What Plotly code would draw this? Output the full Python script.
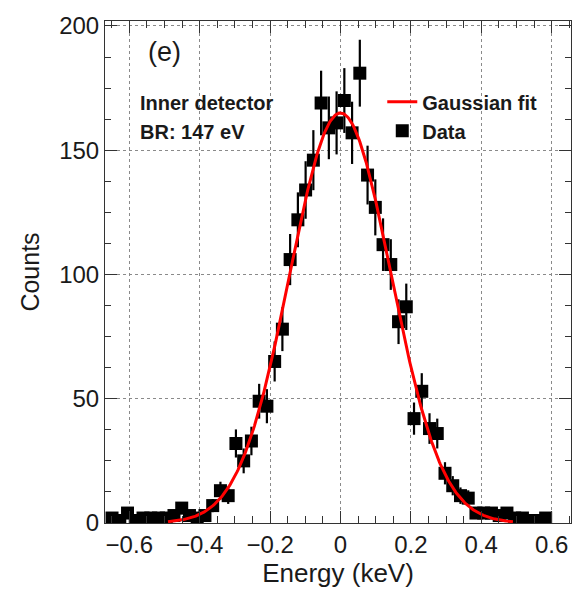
import numpy as np
import plotly.graph_objects as go

# Data (bin centres in keV, counts)
energy_keV = [-0.649, -0.627, -0.605, -0.583, -0.561, -0.539, -0.517, -0.495,
              -0.473, -0.451, -0.429, -0.407, -0.385, -0.363, -0.341, -0.319,
              -0.297, -0.275, -0.253, -0.231, -0.209, -0.187, -0.165, -0.143,
              -0.121, -0.099, -0.077, -0.055, -0.033, -0.011, 0.011, 0.033,
              0.055, 0.077, 0.099, 0.121, 0.143, 0.165, 0.187, 0.209,
              0.231, 0.253, 0.275, 0.297, 0.319, 0.341, 0.363, 0.385,
              0.407, 0.429, 0.451, 0.473, 0.495, 0.517, 0.539, 0.561, 0.583]
counts = [2, 1, 4, 1, 2, 2, 2, 2,
          3, 6, 3, 2, 3, 7, 13, 11,
          32, 25, 33, 49, 47, 65, 78, 106,
          122, 134, 146, 169, 159, 161, 170, 157,
          181, 140, 127, 112, 104, 81, 87, 42,
          53, 38, 36, 20, 15, 11, 10, 4,
          4, 4, 3, 4, 2, 2, 1, 1, 2]

# Gaussian fit parameters
fit_amplitude = 165.0
fit_mean = 0.0
fit_sigma = 0.144
fit_range = [-0.49, 0.49]

x_ticks = [-0.6, -0.4, -0.2, 0, 0.2, 0.4, 0.6]
y_ticks = [0, 50, 100, 150, 200]

errors = np.sqrt(np.array(counts, dtype=float))
xf = np.linspace(fit_range[0], fit_range[1], 400)
yf = fit_amplitude * np.exp(-0.5 * ((xf - fit_mean) / fit_sigma) ** 2)

FONT = "Liberation Sans, Arial, Helvetica, sans-serif"
TXT = "#1a1a1a"

fig = go.Figure()
fig.add_trace(go.Scatter(
    x=energy_keV, y=counts, mode="markers", name="Data",
    marker=dict(symbol="square", size=13, color="black"),
    error_y=dict(type="data", array=errors, color="black", thickness=2.2, width=0),
))
fig.add_trace(go.Scatter(
    x=xf, y=yf, mode="lines", name="Gaussian fit",
    line=dict(color="#ff0000", width=3),
))

axis_common = dict(
    showline=True, linecolor="#333333", linewidth=1, mirror="ticks",
    ticks="inside", tickcolor="#333333",
    showgrid=True, gridcolor="#8a8a8a", griddash="dot", gridwidth=1,
    zeroline=False,
    tickfont=dict(family=FONT, size=24, color=TXT),
)

fig.update_layout(
    width=586, height=601,
    margin=dict(l=105, r=15, t=14, b=78),
    paper_bgcolor="white", plot_bgcolor="white",
    font=dict(family=FONT, color=TXT),
    xaxis=dict(axis_common, range=[-0.669, 0.655], tickvals=x_ticks,
               ticktext=["−0.6", "−0.4", "−0.2", "0", "0.2", "0.4", "0.6"],
               ticklen=12,
               minor=dict(dtick=0.05, tick0=0, ticklen=7, ticks="inside",
                          tickcolor="#333333", showgrid=False),
               title=dict(text="Energy (keV)", font=dict(family=FONT, size=26, color=TXT),
                          standoff=6)),
    yaxis=dict(axis_common, range=[0, 202], tickvals=y_ticks, ticklen=12,
               minor=dict(dtick=12.5, tick0=0, ticklen=6, ticks="inside",
                          tickcolor="#333333", showgrid=False),
               title=dict(text="Counts", font=dict(family=FONT, size=25, color=TXT),
                          standoff=12)),
    showlegend=True,
    legend=dict(x=0.595, y=0.878, xanchor="left", yanchor="top",
                traceorder="reversed", bgcolor="rgba(0,0,0,0)",
                font=dict(family=FONT, size=20, color=TXT, weight="bold"),
                itemwidth=30, tracegroupgap=0),
)

fig.add_annotation(text="(e)", xref="paper", yref="paper", x=0.088, y=0.939,
                   xanchor="left", yanchor="middle", showarrow=False,
                   font=dict(family=FONT, size=27, color=TXT))
fig.add_annotation(text="<b>Inner detector</b>", xref="paper", yref="paper",
                   x=0.07, y=0.837, xanchor="left", yanchor="middle",
                   showarrow=False, font=dict(family=FONT, size=20, color=TXT))
fig.add_annotation(text="<b>BR: 147 eV</b>", xref="paper", yref="paper",
                   x=0.07, y=0.778, xanchor="left", yanchor="middle",
                   showarrow=False, font=dict(family=FONT, size=20, color=TXT))

fig.write_html("out.html")
